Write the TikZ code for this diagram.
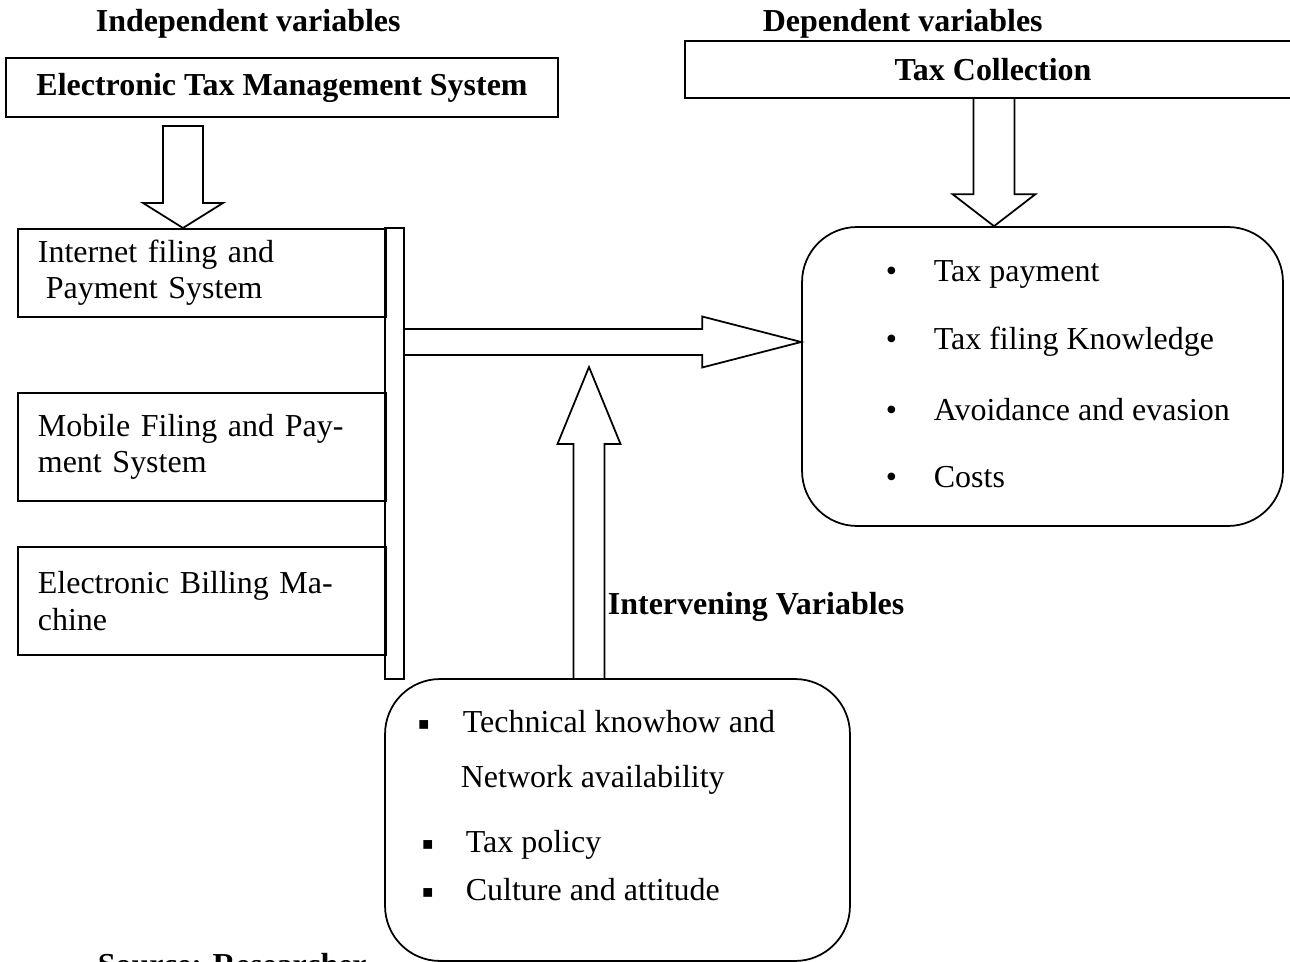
\documentclass[tikz,border=0pt]{standalone}
\usepackage{fontspec}
\setmainfont{Liberation Serif}
\newfontfamily\squarefont{DejaVu Sans}
\usetikzlibrary{calc}
\newcommand{\sqbullet}{\raisebox{0.06cm}{\squarefont\fontsize{10}{10}\selectfont ▪}}

\begin{document}
\begin{tikzpicture}[x=0.02cm, y=-0.02cm, line width=1pt,
    every node/.style={font=\fontsize{18.2}{20.8}\selectfont},
    bold/.style={font=\fontsize{18.2}{20.8}\selectfont\bfseries},
    heading/.style={bold, anchor=base west, inner sep=0pt},
    item/.style={anchor=base west, inner sep=0pt},
    box/.style={draw, rectangle, inner sep=0pt},
    sidebox/.style={draw, rectangle, anchor=north west, inner xsep=0.4cm,
        inner ysep=0pt, text width=6.56cm, align=left},
    roundbox/.style={draw, rectangle, rounded corners=1.1cm, inner sep=0pt},
    blockarrow/.style n args={3}{draw, fill=white, to path={
        ($(\tikztostart)!#1!90:(\tikztotarget)$) --
        ($(\tikztotarget)!#3!(\tikztostart)!#1!-90:(\tikztostart)$) --
        ($(\tikztotarget)!#3!(\tikztostart)!#2!-90:(\tikztostart)$) --
        (\tikztotarget) --
        ($(\tikztotarget)!#3!(\tikztostart)!#2!90:(\tikztostart)$) --
        ($(\tikztotarget)!#3!(\tikztostart)!#1!90:(\tikztostart)$) --
        ($(\tikztostart)!#1!-90:(\tikztotarget)$) -- cycle}}]
    \useasboundingbox (0,0) rectangle (1290,962);

    % headings
    \node[heading] (indep) at (95,32) {Independent variables};
    \node[heading] (dep) at (762,32) {Dependent variables};
    \node[heading] (interv) at (607,614) {Intervening Variables};
    \node[heading] (source) at (97,975) {Source: Researcher};

    % top boxes
    \node[box, bold, minimum width=11.04cm, minimum height=1.18cm] (etms) at (282,87.5) {Electronic Tax Management System};
    \node[box, bold, minimum width=12.32cm, minimum height=1.14cm] (taxcol) at (993,69.5) {Tax Collection};

    % independent variables
    \node[sidebox, minimum height=1.76cm] (ifps) at (17,228) {Internet filing and\\\hspace{.25em}Payment System};
    \node[sidebox, minimum height=2.16cm] (mfps) at (17,392) {Mobile Filing and Pay-\\ment System};
    \node[sidebox, minimum height=2.16cm] (ebm) at (17,546) {Electronic Billing Ma-\\chine};
    \node[box, minimum width=0.38cm, minimum height=9.02cm] (bar) at (394.5,453.5) {};

    % dependent variables
    \node[roundbox, minimum width=9.62cm, minimum height=5.98cm] (depbox) at (1042.5,376.5) {};
    \node[item] (dep1) at (885,282) {\makebox[0.96cm][l]{•}Tax payment};
    \node[item] (dep2) at (885,350) {\makebox[0.96cm][l]{•}Tax filing Knowledge};
    \node[item] (dep3) at (885,420) {\makebox[0.96cm][l]{•}Avoidance and evasion};
    \node[item] (dep4) at (885,487) {\makebox[0.96cm][l]{•}Costs};

    % intervening variables
    \node[roundbox, minimum width=9.3cm, minimum height=5.64cm] (intbox) at (617.5,820) {};
    \node[item] (int1) at (417,732) {\makebox[0.9cm][l]{\sqbullet}Technical knowhow and};
    \node[item] (int2) at (460,787) {Network availability};
    \node[item] (int3) at (421,852) {\makebox[0.88cm][l]{\sqbullet}Tax policy};
    \node[item] (int4) at (421,900) {\makebox[0.88cm][l]{\sqbullet}Culture and attitude};

    % arrow ends
    \coordinate (a1s) at (183,126);
    \coordinate (a1e) at (a1s |- ifps.north);
    \coordinate (a2s) at (994,98);
    \coordinate (a2e) at (a2s |- depbox.north);
    \coordinate (a3s) at (404,342);
    \coordinate (a3e) at (a3s -| depbox.west);
    \coordinate (a4s) at (589,679);
    \coordinate (a4e) at (589,367);

    \path (a1s) edge[blockarrow={0.4cm}{0.8cm}{0.5cm}] (a1e);
    \path (a2s) edge[blockarrow={0.41cm}{0.83cm}{0.64cm}] (a2e);
    \path (a3s) edge[blockarrow={0.26cm}{0.51cm}{1.98cm}] (a3e);
    \path (a4s) edge[blockarrow={0.31cm}{0.63cm}{1.54cm}] (a4e);
\end{tikzpicture}
\end{document}
